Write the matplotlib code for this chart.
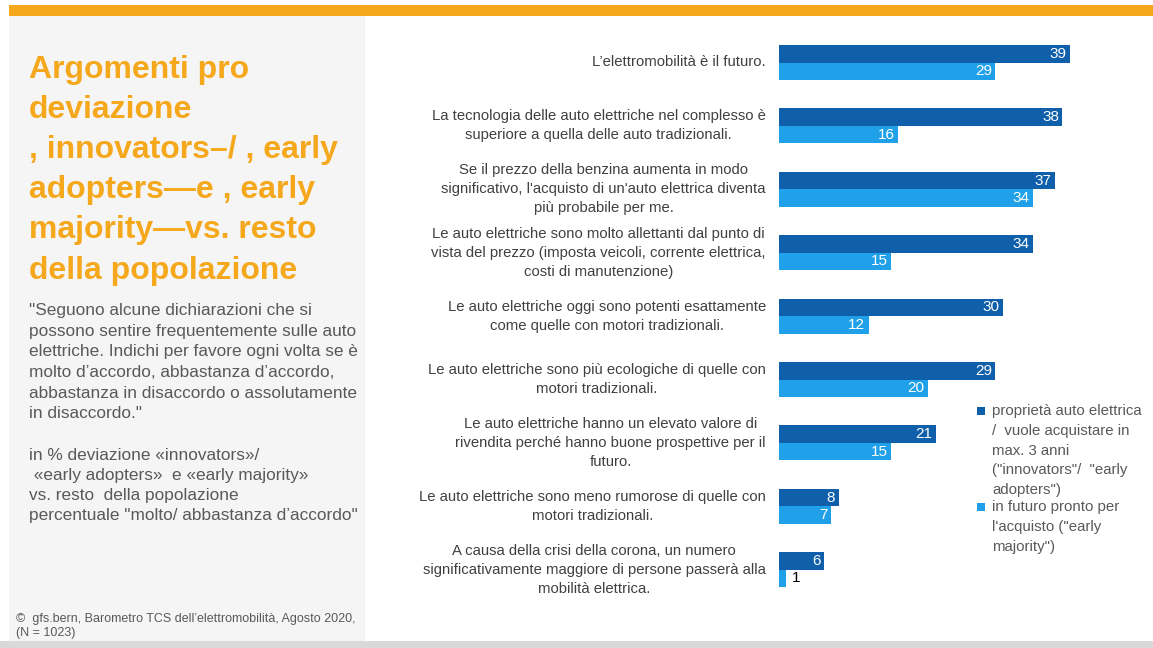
import matplotlib
matplotlib.use("Agg")
import matplotlib.pyplot as plt
from matplotlib.patches import Rectangle
import numpy as np

plt.rcParams['font.family'] = ['Liberation Sans', 'DejaVu Sans']

categories = [
    "L’elettromobilità è il futuro.",
    "La tecnologia delle auto elettriche nel complesso è\nsuperiore a quella delle auto tradizionali.",
    "Se il prezzo della benzina aumenta in modo\nsignificativo, l'acquisto di un'auto elettrica diventa\npiù probabile per me.",
    "Le auto elettriche sono molto allettanti dal punto di\nvista del prezzo (imposta veicoli, corrente elettrica,\ncosti di manutenzione)",
    "Le auto elettriche oggi sono potenti esattamente\ncome quelle con motori tradizionali.",
    "Le auto elettriche sono più ecologiche di quelle con\nmotori tradizionali.",
    "Le auto elettriche hanno un elevato valore di\nrivendita perché hanno buone prospettive per il\nfuturo.",
    "Le auto elettriche sono meno rumorose di quelle con\nmotori tradizionali.",
    "A causa della crisi della corona, un numero\nsignificativamente maggiore di persone passerà alla\nmobilità elettrica.",
]
innovators = [39, 38, 37, 34, 30, 29, 21, 8, 6]
early_majority = [29, 16, 34, 15, 12, 20, 15, 7, 1]
series_names = [
    "proprietà auto elettrica\n/  vuole acquistare in\nmax. 3 anni\n(\"innovators\"/  \"early\nadopters\")",
    "in futuro pronto per\nl'acquisto (\"early\nmajority\")",
]

title = "Argomenti pro\ndeviazione\n, innovators\u2013/ , early\nadopters\u2014e , early\nmajority\u2014vs. resto\ndella popolazione"
body1 = ("\"Seguono alcune dichiarazioni che si\npossono sentire frequentemente sulle auto\n"
         "elettriche. Indichi per favore ogni volta se è\nmolto d’accordo, abbastanza d’accordo,\n"
         "abbastanza in disaccordo o assolutamente\nin disaccordo.\"")
body2 = ("in % deviazione «innovators»/\n «early adopters»  e «early majority»\n"
         "vs. resto  della popolazione\npercentuale \"molto/ abbastanza d’accordo\"")
footer = "©  gfs.bern, Barometro TCS dell’elettromobilità, Agosto 2020,\n(N = 1023)"

W, H = 1153, 648
fig = plt.figure(figsize=(W / 100, H / 100), dpi=100)
fig.patch.set_facecolor("white")

ORANGE = "#F5A81C"
DARK = "#0F5FAA"
LIGHT = "#1FA0E8"
TXT = "#404040"
GREY = "#595959"

def px(x, y):
    return x / W, 1 - y / H

# decorations
fig.patches.append(Rectangle(px(9, 16), (W - 9) / W, 11 / H, transform=fig.transFigure,
                             facecolor=ORANGE, edgecolor="none", zorder=0))
fig.patches.append(Rectangle(px(9, 641), (365 - 9) / W, (641 - 16) / H, transform=fig.transFigure,
                             facecolor="#F5F5F5", edgecolor="none", zorder=0))
fig.patches.append(Rectangle(px(0, 648), 1, 7 / H, transform=fig.transFigure,
                             facecolor="#D9D9D9", edgecolor="none", zorder=0))

# left panel text
fig.text(*px(29, 55), title, color=ORANGE, fontsize=23, fontweight="bold", va="top", ha="left",
         linespacing=1.44)
fig.text(*px(29, 303), body1, color=GREY, fontsize=12.4, va="top", ha="left", linespacing=1.47)
fig.text(*px(29, 448), body2, color=GREY, fontsize=12.4, va="top", ha="left", linespacing=1.42)
fig.text(*px(16, 613), footer, color=GREY, fontsize=9, va="top", ha="left", linespacing=1.2)

# chart axes
gs = 63.4
top_px = 62.5 - 0.6 * gs
h_px = 9.2 * gs
x0 = 779
xmax = 50
ppu = 7.46
ax = fig.add_axes([x0 / W, 1 - (top_px + h_px) / H, xmax * ppu / W, h_px / H])
ax.set_xlim(0, xmax)
ax.set_ylim(8.6, -0.6)
ax.axis("off")

bh = 17.5 / gs
y = np.arange(len(categories))
b1 = ax.barh(y - bh / 2, innovators, height=bh, color=DARK, label=series_names[0])
b2 = ax.barh(y + bh / 2, early_majority, height=bh, color=LIGHT, label=series_names[1])

for bars, vals in ((b1, innovators), (b2, early_majority)):
    for rect, v in zip(bars, vals):
        cy = rect.get_y() + rect.get_height() / 2
        if v >= 3:
            ax.annotate(str(v), (v, cy), xytext=(-2.5, 0), textcoords="offset points",
                        ha="right", va="center", color="white", fontsize=11)
        else:
            ax.annotate(str(v), (v, cy), xytext=(4, 0), textcoords="offset points",
                        ha="left", va="center", color="black", fontsize=11)

for yi, lab in zip(y, categories):
    ax.annotate(lab, (0, yi), xytext=(-9.5, 0), textcoords="offset points",
                ha="right", va="center", multialignment="center", color=TXT,
                fontsize=10.7, linespacing=1.47, annotation_clip=False)

# legend (manual, markers aligned with first line)
leg_items = [(DARK, series_names[0], 411), (LIGHT, series_names[1], 507)]
for col, name, yc in leg_items:
    fig.patches.append(Rectangle(px(977, yc + 4), 8 / W, 8 / H, transform=fig.transFigure,
                                 facecolor=col, edgecolor="none"))
    fig.text(*px(992, yc - 7), name, color=GREY, fontsize=10.8, va="top", ha="left",
             linespacing=1.53)

fig.savefig("out.png", dpi=100)
